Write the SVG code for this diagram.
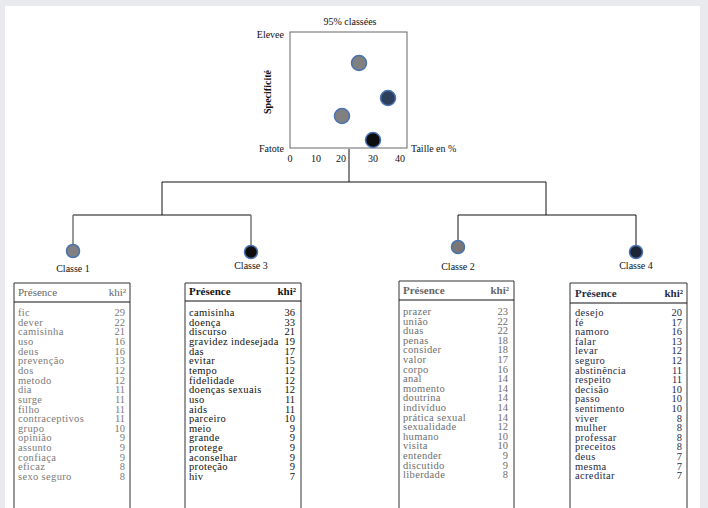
<svg xmlns="http://www.w3.org/2000/svg" width="708" height="508" viewBox="0 0 708 508" font-family="'Liberation Serif','DejaVu Serif',serif">
<defs>
<style>
text{font-family:'Liberation Serif','DejaVu Serif',serif;}
.lbl{font-size:10px;fill:#111;}
.row{font-size:10.5px;}
.w{letter-spacing:0.35px;}
.hdr{font-size:11px;}
.edge{fill:none;stroke:#111;stroke-width:1;}
.edgeg{fill:none;stroke:#777;stroke-width:1.5;}
.box{fill:#fff;stroke:#333;stroke-width:1;}
.dot{stroke:#4a72b0;stroke-width:1.5;}
</style>
</defs>
<rect x="0" y="0" width="708" height="508" fill="#e9eaee"/>
<rect x="5" y="6" width="695" height="502" fill="#fff"/>

<g id="chart">
<rect x="290" y="32" width="117" height="116" fill="#fff" stroke="#666" stroke-width="1"/>
<text class="lbl" x="350" y="25" text-anchor="middle">95% classées</text>
<text class="lbl" x="284" y="38" text-anchor="end">Elevee</text>
<text class="lbl" x="284" y="152" text-anchor="end">Fatote</text>
<text class="lbl" x="411" y="152">Taille en %</text>
<text class="lbl" y="162" text-anchor="middle"><tspan x="290">0</tspan><tspan x="316">10</tspan><tspan x="341">20</tspan><tspan x="373">30</tspan><tspan x="400">40</tspan></text>
<text class="lbl" x="0" y="0" text-anchor="middle" font-weight="bold" font-size="11" transform="translate(271,92) rotate(-90)">Specificité</text>
<circle class="dot" cx="359" cy="63" r="7.5" fill="#808080"/>
<circle class="dot" cx="388" cy="98" r="7.5" fill="#2e3f5c"/>
<circle class="dot" cx="342" cy="116" r="7.5" fill="#808080"/>
<circle class="dot" cx="373" cy="140" r="7.5" fill="#0d0d0d"/>
</g>

<g id="connectors">
<path class="edge" d="M349 149V182M162 182H546M162 182V215M73 215H251M458 215H636M458 215V241M636 215V246"/>
<path class="edge" d="M546 182V215" stroke="#555"/>
<path class="edgeg" d="M73 215V245M251 215V246"/>
</g>

<g id="classe1">
<circle class="dot" cx="73" cy="251" r="6.5" fill="#808080"/>
<text class="lbl" x="73" y="272" text-anchor="middle" font-size="11">Classe 1</text>
<path class="box" d="M14 508V283H130V508"/>
<path class="edge" d="M14 302H130" stroke="#333"/>
<text class="hdr" x="18" y="296" fill="#666">Présence</text>
<text class="hdr" x="126" y="296" fill="#666" text-anchor="end">khi²</text>
<text class="row w" fill="#7a7a7a" y="306.35"><tspan x="18" dy="9.65">fic</tspan><tspan x="18" dy="9.65">dever</tspan><tspan x="18" dy="9.65">camisinha</tspan><tspan x="18" dy="9.65">uso</tspan><tspan x="18" dy="9.65">deus</tspan><tspan x="18" dy="9.65">prevenção</tspan><tspan x="18" dy="9.65">dos</tspan><tspan x="18" dy="9.65">metodo</tspan><tspan x="18" dy="9.65">dia</tspan><tspan x="18" dy="9.65">surge</tspan><tspan x="18" dy="9.65">filho</tspan><tspan x="18" dy="9.65">contraceptivos</tspan><tspan x="18" dy="9.65">grupo</tspan><tspan x="18" dy="9.65">opinião</tspan><tspan x="18" dy="9.65">assunto</tspan><tspan x="18" dy="9.65">confiaça</tspan><tspan x="18" dy="9.65">eficaz</tspan><tspan x="18" dy="9.65">sexo seguro</tspan></text>
<text class="row" fill="#7a7a7a" text-anchor="end" y="306.35"><tspan x="125" dy="9.65">29</tspan><tspan x="125" dy="9.65">22</tspan><tspan x="125" dy="9.65">21</tspan><tspan x="125" dy="9.65">16</tspan><tspan x="125" dy="9.65">16</tspan><tspan x="125" dy="9.65">13</tspan><tspan x="125" dy="9.65">12</tspan><tspan x="125" dy="9.65">12</tspan><tspan x="125" dy="9.65">11</tspan><tspan x="125" dy="9.65">11</tspan><tspan x="125" dy="9.65">11</tspan><tspan x="125" dy="9.65">11</tspan><tspan x="125" dy="9.65">10</tspan><tspan x="125" dy="9.65">9</tspan><tspan x="125" dy="9.65">9</tspan><tspan x="125" dy="9.65">9</tspan><tspan x="125" dy="9.65">8</tspan><tspan x="125" dy="9.65">8</tspan></text>
</g>

<g id="classe3">
<circle class="dot" cx="251" cy="252" r="6.5" fill="#0d0d0d"/>
<text class="lbl" x="251" y="269" text-anchor="middle" font-size="11">Classe 3</text>
<path class="box" d="M185 508V283H301V508"/>
<path class="edge" d="M185 301H301" stroke="#333"/>
<text class="hdr" x="189" y="295" fill="#111" font-weight="bold">Présence</text>
<text class="hdr" x="296" y="295" fill="#111" font-weight="bold" text-anchor="end">khi²</text>
<text class="row w" fill="#111" y="306.35"><tspan x="189" dy="9.65">camisinha</tspan><tspan x="189" dy="9.65">doença</tspan><tspan x="189" dy="9.65">discurso</tspan><tspan x="189" dy="9.65">gravidez indesejada</tspan><tspan x="189" dy="9.65">das</tspan><tspan x="189" dy="9.65">evitar</tspan><tspan x="189" dy="9.65">tempo</tspan><tspan x="189" dy="9.65">fidelidade</tspan><tspan x="189" dy="9.65">doenças sexuais</tspan><tspan x="189" dy="9.65">uso</tspan><tspan x="189" dy="9.65">aids</tspan><tspan x="189" dy="9.65">parceiro</tspan><tspan x="189" dy="9.65">meio</tspan><tspan x="189" dy="9.65">grande</tspan><tspan x="189" dy="9.65">protege</tspan><tspan x="189" dy="9.65">aconselhar</tspan><tspan x="189" dy="9.65">proteção</tspan><tspan x="189" dy="9.65">hiv</tspan></text>
<text class="row" fill="#111" text-anchor="end" y="306.35"><tspan x="295" dy="9.65">36</tspan><tspan x="295" dy="9.65">33</tspan><tspan x="295" dy="9.65">21</tspan><tspan x="295" dy="9.65">19</tspan><tspan x="295" dy="9.65">17</tspan><tspan x="295" dy="9.65">15</tspan><tspan x="295" dy="9.65">12</tspan><tspan x="295" dy="9.65">12</tspan><tspan x="295" dy="9.65">12</tspan><tspan x="295" dy="9.65">11</tspan><tspan x="295" dy="9.65">11</tspan><tspan x="295" dy="9.65">10</tspan><tspan x="295" dy="9.65">9</tspan><tspan x="295" dy="9.65">9</tspan><tspan x="295" dy="9.65">9</tspan><tspan x="295" dy="9.65">9</tspan><tspan x="295" dy="9.65">9</tspan><tspan x="295" dy="9.65">7</tspan></text>
</g>

<g id="classe2">
<circle class="dot" cx="458" cy="247" r="6.5" fill="#7a7676"/>
<text class="lbl" x="458" y="270" text-anchor="middle" font-size="11">Classe 2</text>
<path class="box" d="M399 508V281H514V508"/>
<path class="edge" d="M399 300H514" stroke="#333"/>
<text class="hdr" x="403" y="294" fill="#666" font-weight="bold">Présence</text>
<text class="hdr" x="509" y="294" fill="#666" font-weight="bold" text-anchor="end">khi²</text>
<text class="row w" fill="#6e6e6e" y="305.4"><tspan x="403" dy="9.6">prazer</tspan><tspan x="403" dy="9.6">união</tspan><tspan x="403" dy="9.6">duas</tspan><tspan x="403" dy="9.6">penas</tspan><tspan x="403" dy="9.6">consider</tspan><tspan x="403" dy="9.6">valor</tspan><tspan x="403" dy="9.6">corpo</tspan><tspan x="403" dy="9.6">anal</tspan><tspan x="403" dy="9.6">momento</tspan><tspan x="403" dy="9.6">doutrina</tspan><tspan x="403" dy="9.6">indivíduo</tspan><tspan x="403" dy="9.6">prática sexual</tspan><tspan x="403" dy="9.6">sexualidade</tspan><tspan x="403" dy="9.6">humano</tspan><tspan x="403" dy="9.6">visita</tspan><tspan x="403" dy="9.6">entender</tspan><tspan x="403" dy="9.6">discutido</tspan><tspan x="403" dy="9.6">liberdade</tspan></text>
<text class="row" fill="#6e6e6e" text-anchor="end" y="305.4"><tspan x="508" dy="9.6">23</tspan><tspan x="508" dy="9.6">22</tspan><tspan x="508" dy="9.6">22</tspan><tspan x="508" dy="9.6">18</tspan><tspan x="508" dy="9.6">18</tspan><tspan x="508" dy="9.6">17</tspan><tspan x="508" dy="9.6">16</tspan><tspan x="508" dy="9.6">14</tspan><tspan x="508" dy="9.6">14</tspan><tspan x="508" dy="9.6">14</tspan><tspan x="508" dy="9.6">14</tspan><tspan x="508" dy="9.6">14</tspan><tspan x="508" dy="9.6">12</tspan><tspan x="508" dy="9.6">10</tspan><tspan x="508" dy="9.6">10</tspan><tspan x="508" dy="9.6">9</tspan><tspan x="508" dy="9.6">9</tspan><tspan x="508" dy="9.6">8</tspan></text>
</g>

<g id="classe4">
<circle class="dot" cx="636" cy="252" r="6.5" fill="#1c2538"/>
<text class="lbl" x="636" y="269" text-anchor="middle" font-size="11">Classe 4</text>
<path class="box" d="M570 508V283H687V508"/>
<path class="edge" d="M570 303H687" stroke="#333"/>
<text class="hdr" x="575" y="297" fill="#1f2b45" font-weight="bold">Présence</text>
<text class="hdr" x="683" y="297" fill="#1f2b45" font-weight="bold" text-anchor="end">khi²</text>
<text class="row w" fill="#1f2b45" y="306.4"><tspan x="575" dy="9.6">desejo</tspan><tspan x="575" dy="9.6">fé</tspan><tspan x="575" dy="9.6">namoro</tspan><tspan x="575" dy="9.6">falar</tspan><tspan x="575" dy="9.6">levar</tspan><tspan x="575" dy="9.6">seguro</tspan><tspan x="575" dy="9.6">abstinência</tspan><tspan x="575" dy="9.6">respeito</tspan><tspan x="575" dy="9.6">decisão</tspan><tspan x="575" dy="9.6">passo</tspan><tspan x="575" dy="9.6">sentimento</tspan><tspan x="575" dy="9.6">viver</tspan><tspan x="575" dy="9.6">mulher</tspan><tspan x="575" dy="9.6">professar</tspan><tspan x="575" dy="9.6">preceitos</tspan><tspan x="575" dy="9.6">deus</tspan><tspan x="575" dy="9.6">mesma</tspan><tspan x="575" dy="9.6">acreditar</tspan></text>
<text class="row" fill="#1f2b45" text-anchor="end" y="306.4"><tspan x="682" dy="9.6">20</tspan><tspan x="682" dy="9.6">17</tspan><tspan x="682" dy="9.6">16</tspan><tspan x="682" dy="9.6">13</tspan><tspan x="682" dy="9.6">12</tspan><tspan x="682" dy="9.6">12</tspan><tspan x="682" dy="9.6">11</tspan><tspan x="682" dy="9.6">11</tspan><tspan x="682" dy="9.6">10</tspan><tspan x="682" dy="9.6">10</tspan><tspan x="682" dy="9.6">10</tspan><tspan x="682" dy="9.6">8</tspan><tspan x="682" dy="9.6">8</tspan><tspan x="682" dy="9.6">8</tspan><tspan x="682" dy="9.6">8</tspan><tspan x="682" dy="9.6">7</tspan><tspan x="682" dy="9.6">7</tspan><tspan x="682" dy="9.6">7</tspan></text>
</g>
</svg>
